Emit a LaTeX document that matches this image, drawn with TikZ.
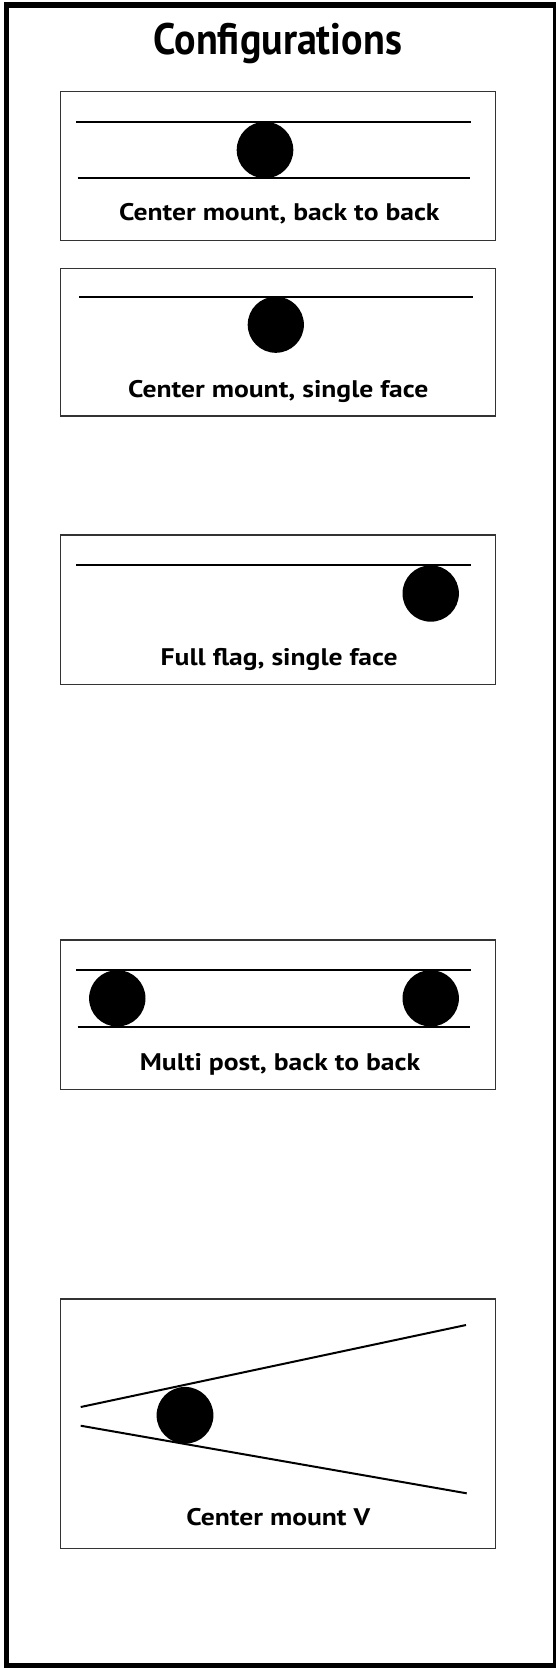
\documentclass[tikz,border=0pt]{standalone}
\usepackage{fontspec}
\setmainfont{PT Sans}
\newfontfamily\lblfont{PT Sans}[FakeStretch=1.15]
\newfontfamily\ttlfont{PT Sans}[FakeStretch=0.91]
\begin{document}
\begin{tikzpicture}[x=1pt,y=-1pt,
  frame/.style={draw=black, line width=5.5pt},
  panel/.style={draw=black!80, line width=1.1pt},
  bar/.style={draw=black, line width=2pt},
  post/.style={fill=black},
  lbl/.style={font=\lblfont\bfseries\fontsize{24}{28}\selectfont, anchor=base, inner sep=0pt},
  ttl/.style={font=\ttlfont\bfseries\fontsize{44}{50}\selectfont, anchor=base, inner sep=0pt}]
\useasboundingbox (0,0) rectangle (556,1668);
\fill[white] (0,0) rectangle (556,1668);
\draw[frame] (6.3,4.8) rectangle (555.5,1666);
\node[ttl] (title) at (277.8,54) {Configurations};

% 1
\draw[panel] (60.7,91.7) rectangle (495.3,240.7);
\draw[bar] (76,121.7) -- (470.7,121.7);
\draw[bar] (77.7,178.3) -- (470,178.3);
\fill[post] (265,150) circle (28.3);
\node[lbl] (lab1) at (279.3,220.7) {Center mount, back to back};

% 2
\draw[panel] (60.7,268.3) rectangle (495.3,416);
\draw[bar] (79,296.7) -- (473.3,296.7);
\fill[post] (275.8,324.7) circle (28.1);
\node[lbl] (lab2) at (278.3,397.7) {Center mount, single face};

% 3
\draw[panel] (60.7,535) rectangle (495.3,684.3);
\draw[bar] (76,565) -- (470.7,565);
\fill[post] (430.7,593.5) circle (28.2);
\node[lbl] (lab3) at (279.2,665.5) {Full flag, single face};

% 4
\draw[panel] (60.7,940) rectangle (495.3,1089.3);
\draw[bar] (76,970) -- (470.7,970);
\draw[bar] (77.7,1026.7) -- (470,1026.7);
\fill[post] (117.3,998.3) circle (28.2);
\fill[post] (430.7,998.3) circle (28.2);
\node[lbl] (lab4) at (280,1070) {Multi post, back to back};

% 5
\draw[panel] (60.7,1299) rectangle (495.3,1548.3);
\draw[bar] (80.7,1407) -- (466,1325);
\draw[bar] (80.7,1425.7) -- (466.7,1493.3);
\fill[post] (185,1415.3) circle (28.4);
\node[lbl] (lab5) at (278.3,1525) {Center mount V};
\end{tikzpicture}
\end{document}
